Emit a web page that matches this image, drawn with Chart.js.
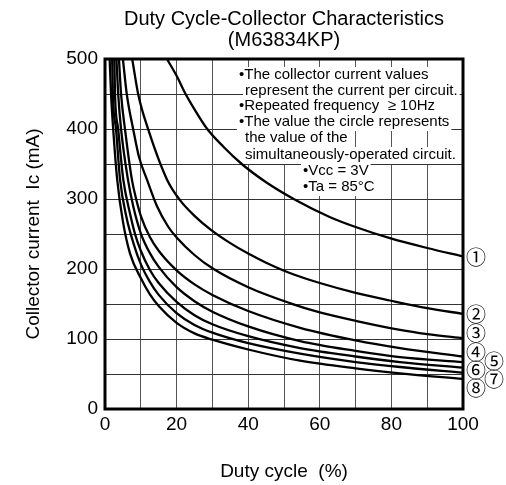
<!DOCTYPE html>
<html>
<head>
<meta charset="utf-8">
<script src="https://cdn.jsdelivr.net/npm/chart.js@4.4.1/dist/chart.umd.min.js"></script>
<style>
html, body { margin: 0; padding: 0; background: #fff; }
</style>
</head>
<body>
<canvas id="chart1" width="506" height="485"></canvas>
<script>
// curves: duty cycle (%) -> collector current (mA), one pair per number of circuits
const dutyC1 = [17.3, 20, 22.4, 25, 28.4, 33, 38.2, 45, 53.1, 62.9, 70, 79.6, 90, 100];
const currC1 = [500, 476, 451, 428, 401, 375, 350, 324, 299, 274, 260, 244, 230, 218];

const dutyC2 = [7.6, 9.3, 12.1, 17.3, 21, 25, 29.6, 35, 40, 45, 51.8, 60, 70, 79.6, 90, 100];
const currC2 = [500, 449, 399, 328, 298, 276, 256, 237, 222, 209, 194, 180, 166, 155, 144, 136];

const dutyC3 = [5.0, 6.1, 7.9, 9.5, 11.7, 14.5, 17.7, 20, 25, 30, 40, 51.8, 60, 70, 82.4, 90, 100];
const currC3 = [500, 449, 399, 360, 328, 290, 260, 245, 220, 201, 174, 151, 138, 126, 113, 107, 101];

const dutyC4 = [3.9, 4.5, 5.6, 7.5, 8.7, 10, 12.5, 15, 20, 25, 30, 40, 54.5, 70, 82.4, 100];
const currC4 = [500, 449, 399, 328, 300, 276, 246, 226, 198, 178, 163, 140, 116, 98, 87, 75];

const dutyC5 = [3.2, 3.7, 4.5, 6.4, 8, 10, 12.5, 15, 20, 25, 30, 40, 54.5, 70, 82.4, 100];
const currC5 = [500, 449, 399, 328, 287, 251, 223, 203, 174, 154, 139, 118, 97, 83, 74, 67];

const dutyC6 = [2.6, 2.8, 3.7, 5.1, 7, 8.5, 10, 12.5, 15, 20, 25, 30, 40, 54.5, 70, 82.4, 100];
const currC6 = [500, 449, 399, 328, 279, 248, 226, 199, 180, 153, 134, 121, 104, 87, 75, 67, 59];

const dutyC7 = [2.0, 2.2, 3.1, 4.2, 6, 8, 10, 12.5, 15, 20, 25, 30, 40, 54.5, 70, 82.4, 100];
const currC7 = [500, 449, 399, 328, 274, 236, 207, 182, 163, 137, 120, 109, 94, 79, 67, 60, 52];

const dutyC8 = [1.3, 1.7, 2.3, 3.4, 5, 7, 10, 12.5, 15, 20, 25, 30, 40, 54.5, 70, 82.4, 100];
const currC8 = [500, 449, 399, 328, 268, 222, 187, 164, 147, 123, 108, 99, 85, 69, 58, 51, 43];

const curveLabels = ['①', '②', '③', '④', '⑤', '⑥', '⑦', '⑧'];

const xTicks = [0, 20, 40, 60, 80, 100];
const yTicks = [0, 100, 200, 300, 400, 500];

const titleLines = ['Duty Cycle-Collector Characteristics', '(M63834KP)'];
const noteLines = [
    '•The collector current values',
    'represent the current per circuit.',
    '•Repeated frequency  \u2265 10Hz',
    '•The value the circle represents',
    'the value of the',
    'simultaneously-operated circuit.',
    '•Vcc = 3V',
    '•Ta = 85°C'
];

function toPoints(xs, ys) {
    return xs.map((x, i) => ({ x: x, y: ys[i] }));
}

const curves = [
    toPoints(dutyC1, currC1), toPoints(dutyC2, currC2), toPoints(dutyC3, currC3), toPoints(dutyC4, currC4),
    toPoints(dutyC5, currC5), toPoints(dutyC6, currC6), toPoints(dutyC7, currC7), toPoints(dutyC8, currC8)
];

const FONT = '"Liberation Sans", Arial, Helvetica, sans-serif';

// text box, circled numbers, title and frame
const extrasPlugin = {
    id: 'extras',
    beforeDatasetsDraw(chart) {
        const ctx = chart.ctx;
        const noteX = [239, 245, 239, 239, 245, 245, 303, 303];
        const noteY = [75, 91, 106, 122, 138, 155, 171, 187];
        ctx.save();
        ctx.font = '15px ' + FONT;
        ctx.textBaseline = 'middle';
        noteLines.forEach((t, i) => {
            const w = ctx.measureText(t).width;
            ctx.fillStyle = '#fff';
            ctx.fillRect(noteX[i] - 2, noteY[i] - 8, w + 4, 17);
            ctx.fillStyle = '#000';
            ctx.fillText(t, noteX[i], noteY[i]);
        });
        ctx.restore();
    },
    afterDatasetsDraw(chart) {
        const ctx = chart.ctx;
        const a = chart.chartArea;
        ctx.save();
        ctx.strokeStyle = '#000';
        ctx.lineWidth = 3;
        ctx.strokeRect(a.left, a.top, a.right - a.left, a.bottom - a.top);

        ctx.fillStyle = '#000';
        ctx.textAlign = 'center';
        ctx.textBaseline = 'middle';
        ctx.font = '20px ' + FONT;
        ctx.fillText(titleLines[0], (a.left + a.right) / 2, 19);
        ctx.fillText(titleLines[1], (a.left + a.right) / 2, 40);

        const labX = [476, 476, 476, 476, 494, 476, 494, 476];
        const labY = [257, 314, 333, 352, 361, 370, 379, 388];
        ctx.font = '20px "Noto Sans CJK JP", "DejaVu Sans", ' + FONT;
        curveLabels.forEach((t, i) => ctx.fillText(t, labX[i], labY[i]));
        ctx.restore();
    }
};

const ctx1 = document.getElementById('chart1').getContext('2d');

const chart1 = new Chart(ctx1, {
    type: 'line',
    data: {
        datasets: curves.map((pts, i) => ({
            label: curveLabels[i],
            data: pts,
            borderColor: '#000',
            borderWidth: 2.3,
            pointRadius: 0,
            fill: false,
            cubicInterpolationMode: 'monotone'
        }))
    },
    options: {
        responsive: false,
        animation: false,
        layout: { padding: { top: 59, right: 43, left: 0, bottom: 0 } },
        plugins: {
            legend: { display: false },
            tooltip: { enabled: false }
        },
        scales: {
            x: {
                type: 'linear',
                min: 0,
                max: 100,
                afterFit: s => { s.height = 76; },
                afterBuildTicks: s => {
                    s.ticks = [];
                    for (let v = 0; v <= 100; v += 10) s.ticks.push({ value: v });
                },
                ticks: {
                    color: '#000',
                    font: { family: FONT, size: 19 },
                    padding: 4,
                    maxRotation: 0,
                    autoSkip: false,
                    callback: v => xTicks.includes(v) ? String(v) : ''
                },
                grid: { color: '#555', lineWidth: 1, drawTicks: false },
                border: { display: false },
                title: {
                    display: true,
                    text: 'Duty cycle  (%)',
                    color: '#000',
                    font: { family: FONT, size: 19, lineHeight: 1.2 },
                    padding: { top: 0, bottom: 2 }
                }
            },
            y: {
                type: 'linear',
                min: 0,
                max: 500,
                afterFit: s => { s.width = 105; },
                afterBuildTicks: s => {
                    s.ticks = [];
                    for (let v = 0; v <= 500; v += 50) s.ticks.push({ value: v });
                },
                ticks: {
                    color: '#000',
                    font: { family: FONT, size: 19 },
                    padding: 7,
                    autoSkip: false,
                    callback: v => yTicks.includes(v) ? String(v) : ''
                },
                grid: { color: '#333', lineWidth: 1, drawTicks: false },
                border: { display: false },
                title: {
                    display: true,
                    text: 'Collector current  Ic (mA)',
                    color: '#000',
                    font: { family: FONT, size: 19, lineHeight: 1.2 },
                    padding: { top: 22, bottom: 0 }
                }
            }
        }
    },
    plugins: [extrasPlugin]
});
</script>
</body>
</html>
